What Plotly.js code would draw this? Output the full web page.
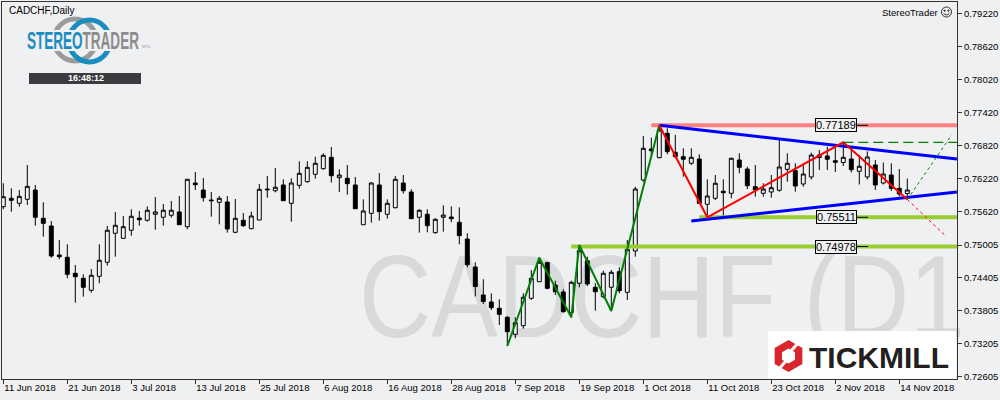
<!DOCTYPE html>
<html>
<head>
<meta charset="utf-8">
<script src="https://cdn.plot.ly/plotly-3.0.1.min.js"></script>
<style>html,body{margin:0;padding:0;background:#eff0f2;}#chart{width:1000px;height:400px;}</style>
</head>
<body>
<div id="chart"></div>
<script>
// ---- data ----
const openP = [0.75705,0.75858,0.75767,0.75840,0.76009,0.75493,0.75353,0.74824,0.74782,0.74490,
0.74399,0.74180,0.74435,0.74691,0.75220,0.75128,0.75275,0.75498,0.75457,0.75566,
0.75512,0.75548,0.75609,0.75340,0.76137,0.76009,0.75827,0.75785,0.75791,0.75238,
0.75457,0.75304,0.75462,0.76027,0.75996,0.76101,0.75767,0.76095,0.76161,0.76296,
0.76398,0.76606,0.76234,0.76223,0.76101,0.75376,0.75584,0.76101,0.75566,0.75686,
0.76137,0.75973,0.75512,0.75566,0.75231,0.75512,0.75517,0.75420,0.75115,0.74605,
0.74094,0.73967,0.73852,0.73687,0.73377,0.73534,0.74034,0.74337,0.74684,0.74277,
0.74149,0.73772,0.74308,0.74720,0.74235,0.74063,0.74235,0.74519,0.74143,0.74897,
0.76192,0.76757,0.76599,0.77043,0.76697,0.76617,0.76497,0.76575,0.75749,0.75858,
0.75986,0.75949,0.76557,0.76392,0.76070,0.75949,0.75973,0.76004,0.76387,0.76362,
0.76119,0.76247,0.76602,0.76630,0.76544,0.76511,0.76575,0.76351,0.76247,0.76466,
0.76137,0.76283,0.76040,0.75945];
const highP = [0.76132,0.76040,0.76009,0.76466,0.76101,0.75785,0.75444,0.75097,0.75019,0.74642,
0.74472,0.74568,0.75019,0.75353,0.75609,0.75535,0.75658,0.75627,0.75712,0.75882,
0.75754,0.75809,0.75900,0.76205,0.76338,0.76228,0.75973,0.75900,0.75900,0.75845,
0.75590,0.75614,0.76119,0.76265,0.76411,0.76205,0.76223,0.76533,0.76533,0.76617,
0.76679,0.76794,0.76387,0.76466,0.76247,0.75840,0.76150,0.76320,0.75840,0.76265,
0.76283,0.76022,0.75658,0.75658,0.75493,0.75730,0.75712,0.75694,0.75220,0.74691,
0.74381,0.74125,0.74016,0.73711,0.73687,0.74125,0.74550,0.74775,0.74702,0.74355,
0.74198,0.74355,0.75006,0.74793,0.74308,0.74537,0.74550,0.74599,0.75097,0.76070,
0.76994,0.76963,0.77189,0.77135,0.77013,0.76770,0.76770,0.76661,0.76205,0.76283,
0.76205,0.76599,0.76679,0.76434,0.76466,0.76132,0.76283,0.76952,0.76679,0.76497,
0.76466,0.76690,0.76739,0.76799,0.76812,0.76879,0.76739,0.76648,0.76712,0.76557,
0.76511,0.76497,0.76392,0.76219];
const lowP = [0.75658,0.75614,0.75705,0.75736,0.75358,0.75158,0.74775,0.74746,0.74399,0.73954,
0.74063,0.74136,0.74308,0.74629,0.74793,0.75128,0.75176,0.75358,0.75431,0.75285,
0.75358,0.75504,0.75376,0.75293,0.76009,0.75796,0.75522,0.75384,0.75231,0.75220,
0.75335,0.75293,0.75462,0.75869,0.75967,0.75814,0.75431,0.76033,0.76143,0.76216,
0.76380,0.76143,0.75973,0.75924,0.75668,0.75371,0.75413,0.75450,0.75486,0.75676,
0.75942,0.75486,0.75231,0.75238,0.75213,0.75249,0.75420,0.75019,0.74599,0.74067,
0.73930,0.73821,0.73547,0.73164,0.73304,0.73480,0.74003,0.74337,0.74198,0.74094,
0.73772,0.73687,0.74235,0.74258,0.73808,0.74034,0.73802,0.74125,0.74003,0.74793,
0.76161,0.76648,0.76588,0.76661,0.76588,0.76252,0.76466,0.75767,0.75511,0.75827,
0.75522,0.75858,0.76314,0.76027,0.75887,0.75887,0.75869,0.75978,0.76161,0.75978,
0.76070,0.76201,0.76374,0.76374,0.76338,0.76447,0.76329,0.76110,0.76201,0.76009,
0.76110,0.75991,0.75891,0.75836];
const closeP = [0.75887,0.75822,0.75894,0.76076,0.75512,0.75402,0.74806,0.74793,0.74472,0.74428,
0.74234,0.74454,0.74728,0.75275,0.75366,0.75340,0.75530,0.75467,0.75640,0.75609,
0.75640,0.75640,0.75376,0.76205,0.76106,0.75869,0.75815,0.75858,0.75298,0.75493,
0.75358,0.75535,0.76022,0.76015,0.76059,0.75814,0.76137,0.76314,0.76423,0.76497,
0.76642,0.76270,0.76283,0.76125,0.75668,0.75627,0.76137,0.75614,0.75767,0.76205,
0.75996,0.75486,0.75640,0.75358,0.75475,0.75553,0.75486,0.75176,0.74647,0.74249,
0.73976,0.73863,0.73742,0.73425,0.73589,0.74052,0.74399,0.74691,0.74216,0.74154,
0.73790,0.74326,0.74902,0.74295,0.74154,0.74490,0.74508,0.74173,0.74928,0.76027,
0.76770,0.76726,0.77104,0.76708,0.76617,0.76570,0.76606,0.75767,0.75900,0.76132,
0.75960,0.76588,0.76423,0.76088,0.76009,0.76027,0.76051,0.76429,0.76497,0.76082,
0.76301,0.76648,0.76648,0.76570,0.76515,0.76606,0.76380,0.76442,0.76611,0.76101,
0.76301,0.76040,0.75936,0.76009];

const firstDay = '2018-06-11';
const tickEvery = 8;
const priceTicks = [0.79220,0.78620,0.78020,0.77420,0.76820,0.76220,0.75620,0.75005,0.74405,0.73805,0.73205,0.72605];

// levels (price, starting bar)
const levelPrices = [0.77189, 0.75511, 0.74978];
const levelStarts = [81, 87, 71];
// zigzags (bar index, price)
const greenZigX = [63, 67, 71, 72, 76, 82];
const greenZigY = [0.73164, 0.74775, 0.73687, 0.75006, 0.73802, 0.77189];
const redZigX = [82, 88, 105, 113];
const redZigY = [0.77189, 0.75511, 0.76879, 0.75836];
const redDotX = [113, 117.9];
const redDotY = [0.75836, 0.75158];
const greenDotX = [113, 118.55];
const greenDotY = [0.75836, 0.77013];
// channel lines
const blueTopX = [82, 119.2];
const blueTopY = [0.77189, 0.76573];
const blueBotX = [86, 119.2];
const blueBotY = [0.75444, 0.75971];
const dashLevelX = [105, 119.2];
const dashLevelY = [0.76879, 0.76879];

const watermark = 'CADCHF (D1';

// ---- build ----
const n = openP.length;
const months = ['Jan','Feb','Mar','Apr','May','Jun','Jul','Aug','Sep','Oct','Nov','Dec'];
const dates = [];
{
  const d = new Date(firstDay + 'T00:00:00Z');
  while (dates.length < n) {
    const wd = d.getUTCDay();
    if (wd !== 0 && wd !== 6) dates.push(new Date(d.getTime()));
    d.setUTCDate(d.getUTCDate() + 1);
  }
}
const idx = dates.map((_, i) => i);
const tickVals = [], tickText = [];
for (let i = 0; i < n; i += tickEvery) {
  tickVals.push(i);
  const d = dates[i];
  tickText.push(d.getUTCDate() + ' ' + months[d.getUTCMonth()] + ' ' + d.getUTCFullYear());
}
const priceText = priceTicks.map(v => v.toFixed(5));

const BG = '#eff0f2';
const XR = [-0.1625, 119.2125];
const YR = [0.72562, 0.794385];
const M = {l: 2, r: 43, t: 2, b: 21};
const PW = 1000 - M.l - M.r, PH = 400 - M.t - M.b;
const xp = px => (px - M.l) / PW;
const yp = py => 1 - (py - M.t) / PH;

const traces = [];
traces.push({
  type: 'candlestick', x: idx, open: openP, high: highP, low: lowP, close: closeP,
  increasing: {line: {color: '#000', width: 1}, fillcolor: BG},
  decreasing: {line: {color: '#000', width: 1}, fillcolor: '#000'},
  whiskerwidth: 0, hoverinfo: 'skip', showlegend: false
});
function line(x, y, color, width, dash) {
  traces.push({type: 'scatter', mode: 'lines', x: x, y: y, hoverinfo: 'skip', showlegend: false,
    line: {color: color, width: width, dash: dash || 'solid'}});
}
const levelColors = ['#ff8080', '#9acd32', '#9acd32'];
levelPrices.forEach((p, k) => line([levelStarts[k], XR[1]], [p, p], levelColors[k], 4));
line(blueTopX, blueTopY, '#0000ff', 3);
line(blueBotX, blueBotY, '#0000ff', 3);
line(greenZigX, greenZigY, '#008000', 2);
line(redZigX, redZigY, '#ff0000', 2);
line(dashLevelX, dashLevelY, '#008000', 1.2, '10px,5px');
line(redDotX, redDotY, '#ff0000', 1, 'dot');
line(greenDotX, greenDotY, '#008000', 1, 'dot');

const shapes = [];
const annotations = [];
const WM_SIZE = 117;
const LOGO_SIZE = 22;
// watermark (below candles)
shapes.push({type: 'rect', xref: 'paper', yref: 'paper', layer: 'below',
  x0: xp(360), x1: xp(990), y0: yp(320), y1: yp(240), line: {width: 0}, fillcolor: 'rgba(0,0,0,0)',
  label: {text: watermark, textposition: 'middle left', padding: 0,
    font: {family: 'Liberation Sans, Arial', size: WM_SIZE, color: '#d8d9da'}}});

// price level labels
levelPrices.forEach(p => {
  annotations.push({xref: 'paper', yref: 'y', x: xp(836), y: p, text: p.toFixed(5), showarrow: false,
    font: {family: 'Liberation Sans, Arial', size: 11, color: '#000'}, bgcolor: BG,
    bordercolor: '#000', borderwidth: 1, borderpad: 0, xanchor: 'center', yanchor: 'middle'});
  shapes.push({type: 'line', xref: 'paper', yref: 'y', x0: xp(857), x1: xp(868), y0: p, y1: p,
    line: {color: '#000', width: 1}});
});

// header texts
annotations.push({xref: 'paper', yref: 'paper', x: xp(7), y: yp(11), xanchor: 'left', yanchor: 'middle',
  text: 'CADCHF,Daily', showarrow: false, font: {family: 'Liberation Sans, Arial', size: 10, color: '#000'}});
annotations.push({xref: 'paper', yref: 'paper', x: xp(940), y: yp(12), xanchor: 'right', yanchor: 'middle',
  text: 'StereoTrader', showarrow: false,
  font: {family: 'Liberation Sans, Arial', size: 9.5, color: '#000'}});
shapes.push({type: 'circle', xref: 'paper', yref: 'paper', x0: xp(941.5), x1: xp(951.5), y0: yp(7), y1: yp(17),
  line: {color: '#333', width: 1}});
shapes.push({type: 'circle', xref: 'paper', yref: 'paper', x0: xp(944), x1: xp(945.3), y0: yp(10), y1: yp(11.3),
  line: {color: '#333', width: 1}, fillcolor: '#333'});
shapes.push({type: 'circle', xref: 'paper', yref: 'paper', x0: xp(947.8), x1: xp(949.1), y0: yp(10), y1: yp(11.3),
  line: {color: '#333', width: 1}, fillcolor: '#333'});
shapes.push({type: 'path', xref: 'paper', yref: 'paper',
  path: 'M' + xp(943.6) + ',' + yp(13.3) + ' Q' + xp(946.5) + ',' + yp(16.5) + ' ' + xp(949.4) + ',' + yp(13.3),
  line: {color: '#333', width: 1}});

// StereoTrader logo
shapes.push({type: 'circle', xref: 'paper', yref: 'paper', x0: xp(54), x1: xp(96), y0: yp(19), y1: yp(61),
  line: {color: '#9b9b9b', width: 5}});
shapes.push({type: 'circle', xref: 'paper', yref: 'paper', x0: xp(69), x1: xp(110), y0: yp(20), y1: yp(62),
  line: {color: '#1a8dc0', width: 5}});
shapes.push({type: 'rect', xref: 'paper', yref: 'paper', x0: xp(24), x1: xp(148), y0: yp(30), y1: yp(51),
  line: {width: 0}, fillcolor: BG});
annotations.push({xref: 'paper', yref: 'paper', x: xp(27), y: yp(40.5), xanchor: 'left', yanchor: 'middle',
  text: '<span style="color:#1a8dc0">STEREO</span><span style="color:#8c8c8c">TRADER</span>', showarrow: false,
  font: {family: 'Liberation Sans, Arial', size: LOGO_SIZE, color: '#1a8dc0', weight: 'bold'}});
annotations.push({xref: 'paper', yref: 'paper', x: xp(140), y: yp(46), xanchor: 'left', yanchor: 'middle',
  text: 'MT4', showarrow: false, font: {family: 'Liberation Sans, Arial', size: 4, color: '#999'}});
shapes.push({type: 'rect', xref: 'paper', yref: 'paper', x0: xp(29), x1: xp(141), y0: yp(73), y1: yp(84),
  line: {width: 0}, fillcolor: '#3c3b40'});
annotations.push({xref: 'paper', yref: 'paper', x: xp(86), y: yp(78.5), xanchor: 'center', yanchor: 'middle',
  text: '<b>16:48:12</b>', showarrow: false, font: {family: 'Liberation Sans, Arial', size: 9, color: '#fff'}});

// Tickmill logo
shapes.push({type: 'rect', xref: 'paper', yref: 'paper', x0: xp(768), x1: xp(956), y0: yp(331), y1: yp(378.5),
  line: {width: 0}, fillcolor: '#ffffff'});
function hexPath(cx, cy, r) {
  let s = '';
  for (let k = 0; k < 6; k++) {
    const a = Math.PI / 180 * (60 * k - 90);
    const px = cx + r * Math.cos(a), py = cy + r * Math.sin(a);
    s += (k === 0 ? 'M' : 'L') + xp(px).toFixed(5) + ',' + yp(py).toFixed(5);
  }
  return s + 'Z';
}
shapes.push({type: 'path', xref: 'paper', yref: 'paper', path: hexPath(788.5, 356, 16), line: {width: 0}, fillcolor: '#d8262e'});
shapes.push({type: 'path', xref: 'paper', yref: 'paper', path: hexPath(788.5, 356, 7.5), line: {width: 0}, fillcolor: '#ffffff'});
shapes.push({type: 'line', xref: 'paper', yref: 'paper', x0: xp(791), y0: yp(351), x1: xp(799), y1: yp(342), line: {color: '#fff', width: 3}});
shapes.push({type: 'line', xref: 'paper', yref: 'paper', x0: xp(786), y0: yp(361), x1: xp(778), y1: yp(370), line: {color: '#fff', width: 3}});
annotations.push({xref: 'paper', yref: 'paper', x: xp(807), y: yp(357.5), xanchor: 'left', yanchor: 'middle',
  text: '<b>TICKMILL</b>', showarrow: false, font: {family: 'Liberation Sans, Arial', size: 30, color: '#231f20'}});

const axFont = {family: 'Liberation Sans, Arial', size: 9.5, color: '#000'};
const layout = {
  width: 1000, height: 400, margin: {l: M.l, r: M.r, t: M.t, b: M.b, pad: 0},
  paper_bgcolor: BG, plot_bgcolor: BG, showlegend: false, dragmode: false,
  xaxis: {range: XR, type: 'linear', showgrid: false, zeroline: false, showline: true, mirror: true,
    linecolor: '#333', linewidth: 1, ticks: 'outside', ticklen: 4, tickcolor: '#333',
    tickvals: tickVals, ticktext: tickText, ticklabelposition: 'outside right', tickfont: axFont,
    rangeslider: {visible: false}, fixedrange: true},
  yaxis: {range: YR, side: 'right', showgrid: false, zeroline: false, showline: true, mirror: true,
    linecolor: '#333', linewidth: 1, ticks: 'outside', ticklen: 4, tickcolor: '#333',
    tickvals: priceTicks, ticktext: priceText, tickfont: axFont, fixedrange: true},
  shapes: shapes, annotations: annotations
};

// squeeze decorative lettering into a target box given in page pixels
function fitText(el, left, width, baseline, fs, capH) {
  const existing = el.getAttribute('transform') || '';
  const r = el.getBoundingClientRect();
  const P = el.parentNode.getScreenCTM();
  const sx = width / r.width;
  const sy = capH ? capH / (0.716 * fs) : 1;
  const leftP = r.left - P.e, baseP = r.top + 0.905 * fs - P.f;
  const Lp = left - P.e, Bp = baseline - P.f;
  el.setAttribute('transform',
    'translate(' + (Lp - leftP * sx) + ',' + (Bp - baseP * sy) + ') scale(' + sx + ',' + sy + ') ' + existing);
}
Plotly.newPlot('chart', traces, layout, {staticPlot: true, displayModeBar: false}).then(() => {
  document.querySelectorAll('#chart text').forEach(el => {
    const t = el.textContent;
    if (t === watermark) fitText(el, 359, 606, 337, WM_SIZE, 0);
    else if (t === 'STEREOTRADER') fitText(el, 27, 112, 49, LOGO_SIZE, 17);
  });
});
</script>
</body>
</html>
